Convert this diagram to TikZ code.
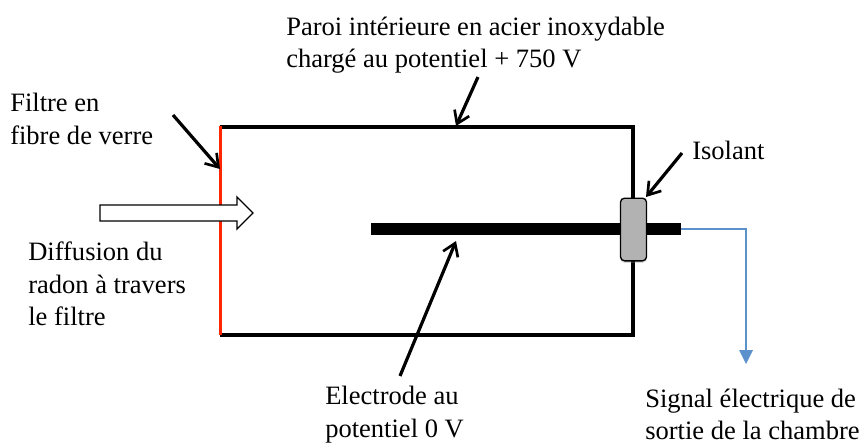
\documentclass[tikz,border=0pt]{standalone}
\usepackage{fontspec}
\setmainfont{Liberation Serif}
\usetikzlibrary{arrows.meta,shadows}
\definecolor{sigblue}{RGB}{91,146,204}
\definecolor{filtred}{RGB}{255,38,0}
\tikzset{
  lbl/.style={anchor=west,align=left,inner sep=0pt,font=\fontsize{19.9}{24.2}\selectfont},
  wall/.style={line width=3pt,black,line join=miter},
  pointer/.style={line width=2.4pt,black,-{Straight Barb[length=9pt,width=12pt,line width=2pt]}},
}
\begin{document}
\begin{tikzpicture}[x=0.75pt,y=-0.75pt]
\useasboundingbox (0,0) rectangle (861,443);
\coordinate (tl) at (220,127);
\coordinate (tr) at (633,127);
\coordinate (bl) at (220,335);
\coordinate (br) at (633,335);
\draw[wall] (tl) -- (tr) -- (br) -- (bl);
\draw[line width=2.6pt,filtred] (220.5,126) -- (220.5,335);
\draw[draw=black,fill=white,line width=1pt] (100,205) -- (237,205) -- (237,197) -- (253,213) -- (237,229) -- (237,221) -- (100,221) -- cycle;
\fill[black] (371,223) rectangle (681,235);
\coordinate (er) at (681,229);
\node[draw=black,fill=black!30,line width=1pt,rounded corners=3pt,minimum width=19.5pt,minimum height=47pt,inner sep=0pt,drop shadow={shadow xshift=0pt,shadow yshift=-1.5pt,opacity=.3}] (iso) at (633.5,229.5) {};
\coordinate (sigcorner) at (746,229);
\coordinate (sigtip) at (746,364);
\draw[line width=1pt,sigblue] (er) -- (sigcorner) -- (746,350);
\fill[sigblue] (739,350) -- (753,350) -- (sigtip) -- cycle;
\node[lbl] (t1) at (286,45) {Paroi intérieure en acier inoxydable\\chargé au potentiel + 750 V};
\node[lbl] (t2) at (10,119) {Filtre en\\fibre de verre};
\node[lbl] (t3) at (692,150) {Isolant};
\node[lbl] (t4) at (28,284) {Diffusion du\\radon à travers\\le filtre};
\node[lbl] (t5) at (325,414.5) {Electrode au\\potentiel 0 V};
\node[lbl] (t6) at (645,414.5) {Signal électrique de\\sortie de la chambre};
\coordinate (a1s) at (478,77); \coordinate (a1e) at (456,126);
\coordinate (a2s) at (173,115); \coordinate (a2e) at (220,169);
\coordinate (a3s) at (682,153); \coordinate (a3e) at (646,197);
\coordinate (a4s) at (400,376); \coordinate (a4e) at (456,241);
\draw[pointer] (a1s) -- (a1e);
\draw[pointer] (a2s) -- (a2e);
\draw[pointer] (a3s) -- (a3e);
\draw[pointer] (a4s) -- (a4e);
\end{tikzpicture}
\end{document}
